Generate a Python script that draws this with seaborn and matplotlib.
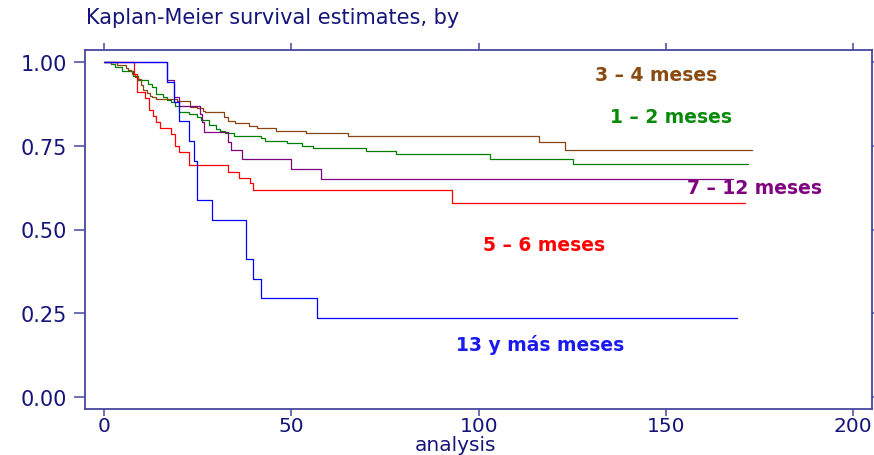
import numpy as np
import pandas as pd
import matplotlib
matplotlib.use("Agg")
import matplotlib.pyplot as plt
import seaborn as sns

# Kaplan-Meier step estimates per group: event times and survival after each step
t_12 = [0, 1.9, 2.9, 4.9, 7.8, 9.0, 11.8, 12.9, 13.8, 15.8, 16.9, 17.9, 19.0, 20.0, 22.8,
        24.7, 25.8, 27.9, 29.9, 31.0, 32.3, 34.8, 41.9, 43.0, 48.9, 52.9, 55.9, 70.0,
        77.9, 103.1, 125.1, 172.0]
s_12 = [1.0, 0.995, 0.987, 0.975, 0.960, 0.947, 0.935, 0.927, 0.905, 0.897, 0.887, 0.880,
        0.870, 0.852, 0.845, 0.837, 0.827, 0.812, 0.800, 0.794, 0.788, 0.781, 0.773, 0.766,
        0.759, 0.751, 0.744, 0.735, 0.725, 0.711, 0.695, 0.695]

t_34 = [0, 3.6, 5.8, 6.5, 7.1, 7.6, 8.3, 9.2, 9.8, 10.5, 11.4, 12.3, 12.9, 13.8, 19.6,
        23.0, 24.9, 26.5, 27.0, 31.9, 33.0, 35.0, 38.8, 40.9, 45.9, 53.9, 65.1, 116.0,
        123.1, 172.9]
s_34 = [1.0, 0.993, 0.983, 0.978, 0.973, 0.965, 0.957, 0.950, 0.933, 0.917, 0.907, 0.900,
        0.895, 0.890, 0.885, 0.867, 0.862, 0.855, 0.850, 0.836, 0.825, 0.818, 0.810, 0.803,
        0.795, 0.789, 0.781, 0.761, 0.738, 0.738]

t_56 = [0, 8.0, 8.9, 10.9, 12.0, 13.0, 13.9, 15.0, 17.9, 19.0, 19.9, 22.8, 33.0, 36.0,
        39.0, 39.9, 93.0, 171.1]
s_56 = [1.0, 0.965, 0.912, 0.892, 0.857, 0.840, 0.820, 0.804, 0.786, 0.751, 0.731, 0.694,
        0.673, 0.654, 0.638, 0.617, 0.579, 0.579]

t_712 = [0, 16.9, 18.7, 19.9, 25.5, 26.2, 26.8, 33.0, 33.9, 36.9, 49.9, 57.9, 168.0]
s_712 = [1.0, 0.947, 0.895, 0.870, 0.845, 0.820, 0.791, 0.763, 0.738, 0.710, 0.682,
         0.652, 0.652]

t_13 = [0, 16.9, 18.7, 19.9, 22.8, 23.9, 24.8, 28.9, 38.0, 39.9, 41.8, 56.8, 168.9]
s_13 = [1.0, 0.941, 0.882, 0.824, 0.765, 0.706, 0.588, 0.529, 0.412, 0.353, 0.294,
        0.235, 0.235]

groups = ["1 – 2 meses", "3 – 4 meses", "5 – 6 meses", "7 – 12 meses", "13 y más meses"]
times = [t_12, t_34, t_56, t_712, t_13]
survs = [s_12, s_34, s_56, s_712, s_13]
colors = ["#008000", "#8b4513", "#ff0000", "#800080", "#0000ff"]
text_colors = ["#0a8a0a", "#8a4a10", "#ff0000", "#800080", "#1a1aee"]

# label anchor (analysis time, survival) for each group name
label_t = [151.4, 147.5, 117.5, 173.6, 116.4]
label_s = [0.837, 0.965, 0.456, 0.626, 0.157]

x_ticks = [0, 50, 100, 150, 200]
y_ticks = [0.0, 0.25, 0.50, 0.75, 1.00]
y_tick_labels = ["0.00", "0.25", "0.50", "0.75", "1.00"]

df = pd.concat(
    [pd.DataFrame({"group": g, "time": t, "surv": s}) for g, t, s in zip(groups, times, survs)],
    ignore_index=True,
)

sns.set_style("white")
plt.rcParams["font.family"] = ["DejaVu Sans"]

navy = "#14147a"
frame = "#4646a0"

fig = plt.figure(figsize=(8.74, 4.56), dpi=100)
ax = fig.add_axes([85 / 874, 1 - 410.3 / 456, (872.3 - 85) / 874, (410.3 - 50.7) / 456])

sns.lineplot(
    data=df, x="time", y="surv", hue="group", hue_order=groups,
    palette=dict(zip(groups, colors)), estimator=None, sort=False,
    drawstyle="steps-post", linewidth=0.9, legend=False, ax=ax,
)

for g, c, tx, sy in zip(groups, text_colors, label_t, label_s):
    ax.text(tx, sy, g, color=c, fontsize=13.5, fontweight="bold",
            ha="center", va="center")

ax.set_xlim(-5.07, 205.07)
ax.set_ylim(-0.0377, 1.0377)
ax.set_xticks(x_ticks)
ax.set_yticks(y_ticks)
ax.set_yticklabels(y_tick_labels)
ax.set_xlabel("")
ax.set_ylabel("")

for sp in ax.spines.values():
    sp.set_visible(True)
    sp.set_color(frame)
    sp.set_linewidth(1.3)

ax.tick_params(axis="y", which="both", left=True, right=True, direction="out",
               length=8, width=1.1, color=frame, labelcolor=navy, labelsize=15, pad=5)
ax.tick_params(axis="x", which="both", bottom=True, top=True, direction="out",
               length=5, width=1.1, color=frame, labelcolor=navy, labelsize=14.5, pad=0)

fig.text(86 / 874, 1 - 18 / 456, "Kaplan-Meier survival estimates, by",
         color=navy, fontsize=15, ha="left", va="center")
fig.text(456 / 874, 1 - 446 / 456, "analysis", color=navy, fontsize=14.5,
         ha="center", va="center")

fig.savefig("out.png", dpi=100, facecolor="white")
